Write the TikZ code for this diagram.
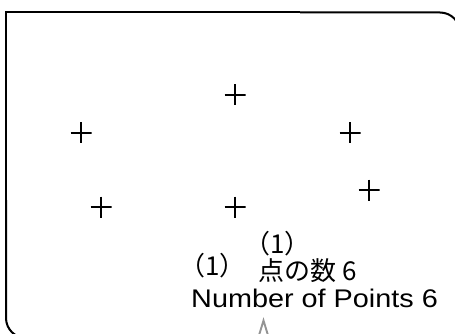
\documentclass[tikz,border=0pt]{standalone}
\usepackage{fontspec}
\setmainfont{Liberation Sans}
\newfontfamily\widefont[FakeStretch=1.13]{Liberation Sans}
\newfontfamily\jpfont{Noto Sans CJK JP}
\tikzset{
  frame/.style={draw=black, line width=2pt},
  crossmark/.style={shape=rectangle, inner sep=0pt, minimum size=21pt,
    path picture={\draw[line width=1.3pt]
      (path picture bounding box.north) -- (path picture bounding box.south)
      (path picture bounding box.west) -- (path picture bounding box.east);}},
  lbl/.style={anchor=base west, inner sep=0pt, text=black},
  bigtxt/.style={lbl, font=\widefont\fontsize{25.5}{30}\selectfont},
  jptxt/.style={lbl, font=\jpfont\fontsize{26}{30}\selectfont},
  chev/.style={draw=black!42, line width=1.9pt, line join=miter}
}
\begin{document}
\begin{tikzpicture}[x=1pt,y=-1pt]
\useasboundingbox (0,0) rectangle (455,334);
% frame (clipped by the page)
\draw[frame, rounded corners=20pt] (90,338) -- (6,338) -- (6,200);
\draw[frame] (6,200) -- (6,12.5) -- (300,12.5);
\draw[frame, rounded corners=20pt] (300,12.5) -- (460,12.5) -- (460,90);
% points
\node[crossmark] (p1) at (235,95) {};
\node[crossmark] (p2) at (81,133) {};
\node[crossmark] (p3) at (350,133) {};
\node[crossmark] (p4) at (369,190) {};
\node[crossmark] (p5) at (101,207) {};
\node[crossmark] (p6) at (235,207) {};
% labels
\node[jptxt] (cnta) at (179,275) {（1）};
\node[jptxt] (cntb) at (244,253) {（1）};
\node[jptxt] (cntjp) at (258.5,280) {点の数 6};
\node[bigtxt] (cnten) at (191,307) {Number of Points 6};
% arrow head of a connector entering from below
\coordinate (tip) at (263.5,320.5);
\coordinate (armL) at (258.5,337);
\coordinate (armR) at (268.5,337);
\draw[chev] (armL) -- (tip) -- (armR);
\end{tikzpicture}
\end{document}
